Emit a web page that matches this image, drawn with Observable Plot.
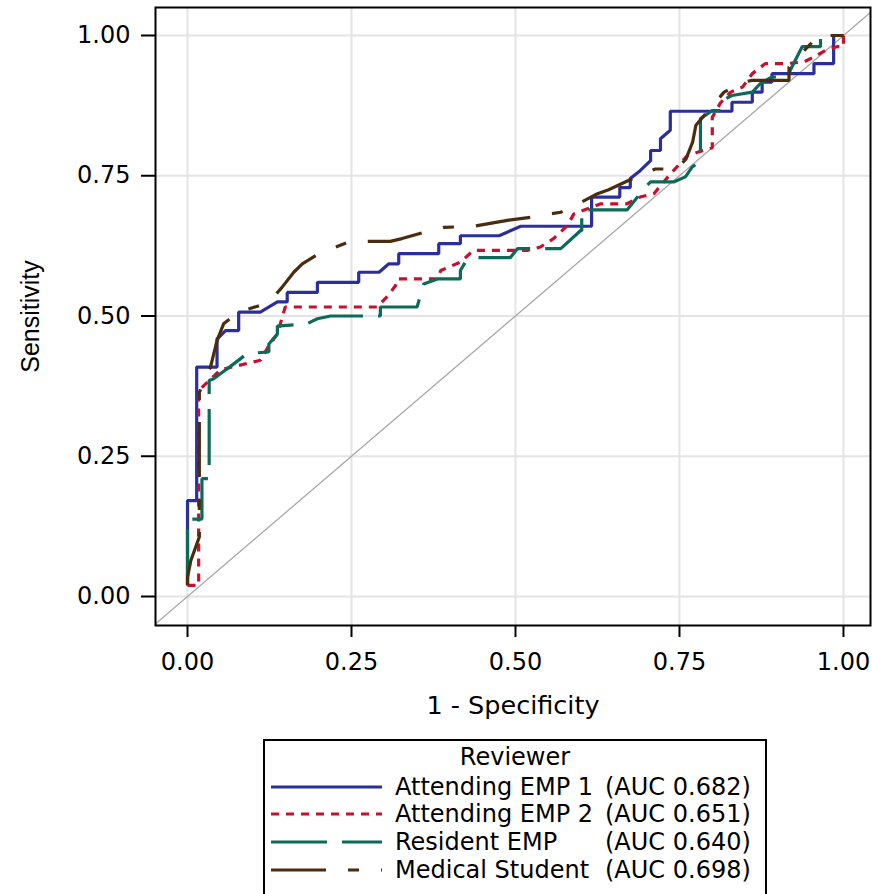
<!DOCTYPE html>
<html><head><meta charset="utf-8">
<script src="https://cdn.jsdelivr.net/npm/d3@7"></script>
<script src="https://cdn.jsdelivr.net/npm/@observablehq/plot@0.6"></script>
<style>
html,body{margin:0;padding:0;background:#fff;}
body{width:872px;height:894px;overflow:hidden;}
svg{display:block;}
</style></head><body>
<div id="chart"></div>
<script>
// ---- data ----
const axisTicks = [0, 0.25, 0.5, 0.75, 1];
const reviewers = ["Attending EMP 1", "Attending EMP 2", "Resident EMP", "Medical Student"];
const aucLabels = ["(AUC 0.682)", "(AUC 0.651)", "(AUC 0.640)", "(AUC 0.698)"];
const legendTitle = "Reviewer";
const xLabel = "1 - Specificity";
const yLabel = "Sensitivity";

// [1 - specificity, sensitivity]
const attending1 = [[0,0.02],[0,0.171],[0.014,0.171],[0.014,0.409],[0.045,0.409],[0.045,0.459],[0.058,0.474],[0.078,0.474],[0.078,0.507],[0.111,0.507],[0.137,0.525],[0.152,0.525],[0.152,0.542],[0.198,0.542],[0.198,0.560],[0.261,0.560],[0.261,0.578],[0.292,0.578],[0.307,0.593],[0.322,0.593],[0.322,0.611],[0.383,0.611],[0.383,0.629],[0.416,0.629],[0.416,0.643],[0.475,0.643],[0.508,0.660],[0.616,0.660],[0.616,0.712],[0.659,0.712],[0.659,0.729],[0.675,0.729],[0.675,0.745],[0.690,0.759],[0.706,0.777],[0.706,0.795],[0.721,0.795],[0.721,0.816],[0.736,0.831],[0.736,0.865],[0.830,0.865],[0.830,0.881],[0.861,0.881],[0.861,0.899],[0.876,0.899],[0.876,0.917],[0.891,0.917],[0.891,0.932],[0.955,0.932],[0.955,0.950],[0.985,0.950],[0.985,1],[1,1]];
const attending2 = [[0,0.02],[0.017,0.02],[0.017,0.367],[0.050,0.404],[0.111,0.421],[0.124,0.447],[0.137,0.468],[0.149,0.516],[0.289,0.516],[0.304,0.534],[0.317,0.554],[0.320,0.566],[0.381,0.566],[0.386,0.581],[0.416,0.596],[0.436,0.617],[0.518,0.617],[0.538,0.623],[0.558,0.638],[0.579,0.661],[0.589,0.682],[0.630,0.700],[0.670,0.700],[0.690,0.712],[0.711,0.718],[0.736,0.753],[0.762,0.786],[0.800,0.800],[0.800,0.854],[0.8125,0.880],[0.828,0.899],[0.846,0.908],[0.861,0.932],[0.881,0.950],[0.914,0.950],[0.940,0.953],[0.955,0.962],[0.975,0.975],[0.990,0.980],[1,0.980],[1,1]];
const resident = [[0,0.02],[0,0.138],[0.022,0.138],[0.022,0.210],[0.033,0.210],[0.033,0.385],[0.040,0.388],[0.050,0.397],[0.063,0.408],[0.091,0.433],[0.124,0.436],[0.124,0.450],[0.137,0.468],[0.137,0.482],[0.182,0.486],[0.198,0.495],[0.218,0.500],[0.294,0.500],[0.294,0.516],[0.350,0.516],[0.360,0.557],[0.381,0.566],[0.416,0.566],[0.416,0.581],[0.423,0.595],[0.436,0.604],[0.492,0.604],[0.503,0.620],[0.569,0.620],[0.599,0.652],[0.601,0.652],[0.601,0.689],[0.670,0.689],[0.686,0.712],[0.693,0.724],[0.706,0.739],[0.741,0.739],[0.759,0.748],[0.769,0.765],[0.782,0.777],[0.782,0.852],[0.800,0.866],[0.8125,0.866],[0.815,0.884],[0.830,0.893],[0.861,0.899],[0.873,0.914],[0.891,0.926],[0.914,0.926],[0.924,0.950],[0.937,0.980],[0.965,0.980],[0.965,1],[1,1]];
const student = [[0,0.02],[0,0.034],[0.005,0.064],[0.018,0.106],[0.018,0.364],[0.035,0.409],[0.045,0.456],[0.055,0.486],[0.078,0.507],[0.111,0.519],[0.127,0.528],[0.144,0.551],[0.162,0.578],[0.175,0.593],[0.200,0.611],[0.248,0.633],[0.309,0.633],[0.327,0.638],[0.360,0.649],[0.391,0.658],[0.436,0.660],[0.470,0.667],[0.490,0.671],[0.523,0.676],[0.569,0.685],[0.596,0.700],[0.625,0.718],[0.642,0.725],[0.673,0.742],[0.713,0.762],[0.746,0.762],[0.760,0.780],[0.770,0.810],[0.775,0.840],[0.818,0.899],[0.848,0.917],[0.861,0.920],[0.917,0.920],[0.917,0.944],[0.940,0.973],[0.962,1],[1,1]];
const diagonal = [[-0.1,-0.1],[1.1,1.1]];

// ---- styles ----
const colors = ["#2b2f9e", "#c8102e", "#0c6b58", "#4a2c0e"];
const dashes = [null, "8,7", "56,15", "55,22,11,22"];
const series = [attending1, attending2, resident, student];

const fmt = d3.format(".2f");
const plot = Plot.plot({
  width: 872, height: 730,
  marginLeft: 155, marginRight: 2, marginTop: 7, marginBottom: 105,
  style: {fontFamily: "DejaVu Sans", fontSize: "24px", color: "#000", background: "#fff", overflow: "visible"},
  x: {domain: [-0.0488, 1.0412]},
  y: {domain: [-0.0517, 1.0499]},
  marks: [
    Plot.gridX(axisTicks, {stroke: "#e4e4e4", strokeOpacity: 1, strokeWidth: 2}),
    Plot.gridY(axisTicks, {stroke: "#e4e4e4", strokeOpacity: 1, strokeWidth: 2}),
    Plot.line(diagonal, {x: d => d[0], y: d => d[1], stroke: "#a8a8a8", strokeWidth: 1.3, clip: true}),
    ...series.map((s, i) => Plot.line(s, {
      x: d => d[0], y: d => d[1], stroke: colors[i], strokeWidth: 3.2,
      strokeDasharray: dashes[i] ?? undefined, strokeLinejoin: "miter", strokeLinecap: "butt"
    })),
    Plot.frame({stroke: "#000", strokeWidth: 2}),
    Plot.axisX(axisTicks, {tickFormat: fmt, tickSize: 12, tickPadding: 15, strokeWidth: 2, label: null, fontSize: 24}),
    Plot.axisY(axisTicks, {tickFormat: fmt, tickSize: 14, tickPadding: 11, strokeWidth: 2, label: null, fontSize: 24}),
    Plot.text([xLabel], {text: d => d, frameAnchor: "bottom", dy: 80, fontSize: 25.5, lineAnchor: "middle", textAnchor: "middle"}),
    Plot.text([yLabel], {text: d => d, frameAnchor: "left", dx: -125, rotate: -90, fontSize: 25, fontFamily: "Liberation Sans", lineAnchor: "middle", textAnchor: "middle"})
  ]
});
document.getElementById("chart").appendChild(plot);

// ---- legend (below the plot SVG) ----
const leg = d3.create("svg").attr("width", 872).attr("height", 164)
  .style("font-family", "DejaVu Sans").style("font-size", "24px");
leg.append("rect").attr("x", 264).attr("y", 10).attr("width", 502).attr("height", 220)
  .attr("fill", "#fff").attr("stroke", "#000").attr("stroke-width", 2);
leg.append("text").attr("x", 515).attr("y", 27).attr("dy", "0.35em").attr("text-anchor", "middle").text(legendTitle);
const rowY = [57, 84, 112, 140];
reviewers.forEach((name, i) => {
  const y = rowY[i];
  leg.append("line").attr("x1", 271).attr("x2", 382).attr("y1", y).attr("y2", y)
    .attr("stroke", colors[i]).attr("stroke-width", 3)
    .attr("stroke-dasharray", dashes[i] || null);
  leg.append("text").attr("x", 395).attr("y", y).attr("dy", "0.35em").text(name);
  leg.append("text").attr("x", 605).attr("y", y).attr("dy", "0.35em").text(aucLabels[i]);
});
document.getElementById("chart").appendChild(leg.node());
</script>
</body></html>
